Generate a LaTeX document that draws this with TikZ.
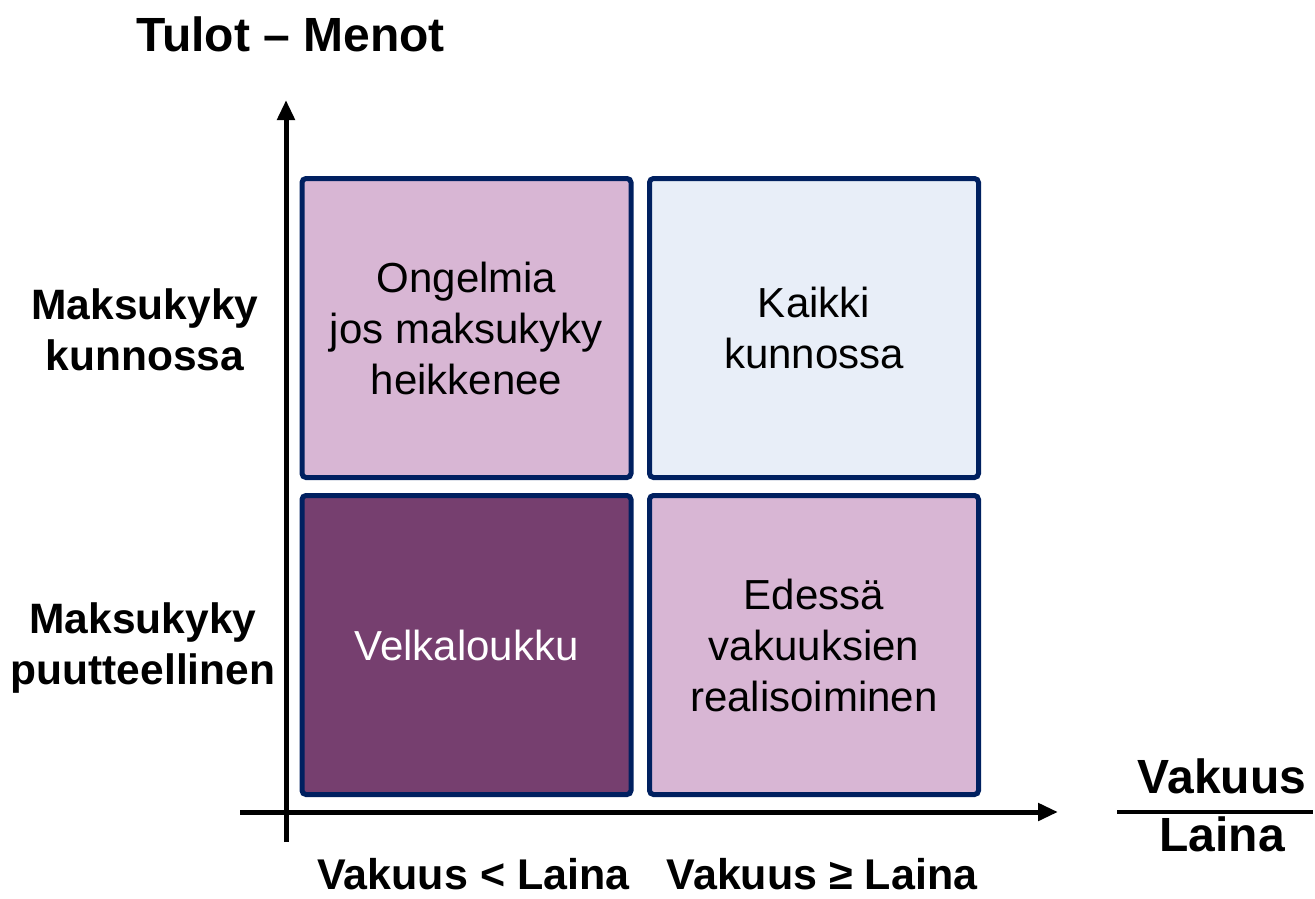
\documentclass[tikz,border=0pt]{standalone}
\usepackage{fontspec}
\setmainfont{Liberation Sans}
\usetikzlibrary{arrows.meta}
\definecolor{navy}{HTML}{002060}
\definecolor{pinkq}{HTML}{D8B6D4}
\definecolor{purpq}{HTML}{763F6F}
\definecolor{blueq}{HTML}{E8EEF8}
\begin{document}
\begin{tikzpicture}[x=1pt,y=-1pt,
  quad/.style={draw=navy,line width=5pt,rounded corners=4pt,minimum width=329pt,minimum height=299pt,
    align=center,font=\fontsize{42}{51}\selectfont,inner sep=0pt},
  lbl/.style={align=center,font=\fontsize{42.5}{51}\selectfont\bfseries,inner sep=0pt},
  axis/.style={line width=5pt,-{Triangle[width=17pt,length=20pt]}}]
\useasboundingbox (0,0) rectangle (1315,898);
\node[quad,fill=pinkq] (tl) at (466.5,328) {Ongelmia\\jos maksukyky\\heikkenee};
\node[quad,fill=blueq] (tr) at (814,328) {Kaikki\\kunnossa};
\node[quad,fill=purpq,text=white] (bl) at (466.5,645) {Velkaloukku};
\node[quad,fill=pinkq] (br) at (814,645) {Edessä\\vakuuksien\\realisoiminen};
\coordinate (ybot) at (286,842);
\coordinate (ytop) at (286,100);
\coordinate (xl) at (240,812);
\coordinate (xr) at (1058,812);
\draw[axis] (ybot) -- (ytop);
\draw[axis] (xl) -- (xr);
\node[lbl,font=\fontsize{48}{56}\selectfont\bfseries] (ttl) at (290.5,34) {Tulot – Menot};
\node[lbl] (mk) at (145,330) {Maksukyky\\kunnossa};
\node[lbl] (mp) at (143,648) {Maksukyky\\puutteellinen};
\node[lbl,font=\fontsize{43}{51}\selectfont\bfseries] (v1) at (473.5,874) {Vakuus < Laina};
\node[lbl,font=\fontsize{43}{51}\selectfont\bfseries] (v2) at (822,874) {Vakuus ≥ Laina};
\node[lbl,font=\fontsize{48}{56}\selectfont\bfseries] (fn) at (1222,776) {Vakuus};
\node[lbl,font=\fontsize{48}{56}\selectfont\bfseries] (fd) at (1222,834) {Laina};
\coordinate (fl) at (1117,812);
\coordinate (fr) at (1313,812);
\draw[line width=4pt] (fl) -- (fr);
\end{tikzpicture}
\end{document}
